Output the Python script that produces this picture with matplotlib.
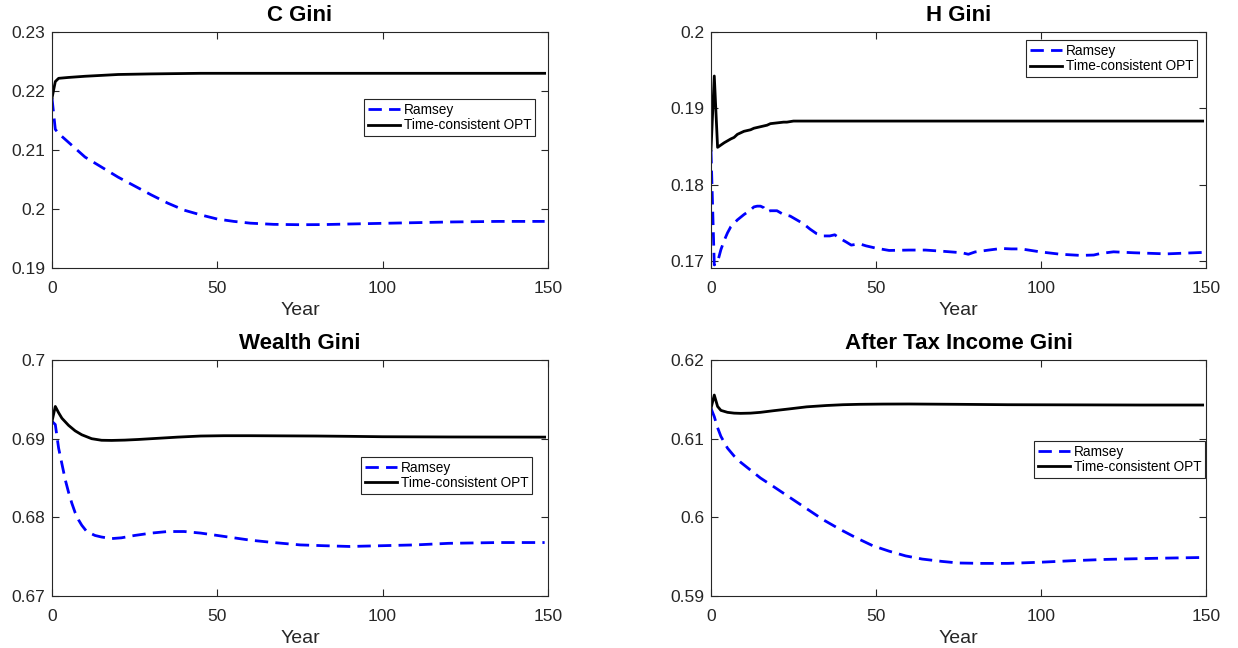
import matplotlib
matplotlib.use("Agg")
import matplotlib.pyplot as plt
from matplotlib.ticker import FuncFormatter

plt.rcParams['font.family'] = ['Liberation Sans', 'DejaVu Sans']

# C Gini
c_t_ram = [0, 1, 2, 4, 7, 10, 15, 20, 25, 30, 35, 40, 45, 50, 55, 60, 67, 75, 82, 90, 105, 120, 135, 149]
c_ram = [0.2188, 0.2135, 0.2128, 0.2118, 0.2103, 0.2088, 0.2071, 0.2054, 0.2039, 0.2024, 0.2010, 0.1998,
         0.1990, 0.1983, 0.1979, 0.1976, 0.1974, 0.19734, 0.19736, 0.19746, 0.19763, 0.1978, 0.1979, 0.1979]
c_t_opt = [0, 1, 2, 5, 10, 15, 20, 30, 45, 60, 100, 149]
c_opt = [0.2188, 0.2216, 0.22215, 0.2223, 0.2225, 0.22265, 0.2228, 0.2229, 0.2230, 0.2230, 0.2230, 0.2230]

# H Gini
h_t_ram = [0, 1, 2, 3, 4, 5, 6, 8, 10, 12, 13, 14, 15, 16, 17, 18, 20, 22, 24, 26, 28, 30, 32, 34, 36,
           37.5, 39, 41, 42.5, 44, 45.5, 47, 50, 54, 60, 65, 70, 76, 78, 80, 84, 88, 91, 94, 100, 106,
           112, 116, 118, 122, 128, 138, 149]
h_ram = [0.18454, 0.1695, 0.1699, 0.1715, 0.1727, 0.1737, 0.1745, 0.1754, 0.1761, 0.1767, 0.1771, 0.1772,
         0.1772, 0.1770, 0.17645, 0.1766, 0.1766, 0.1761, 0.1759, 0.1754, 0.1749, 0.1742, 0.1736, 0.1733,
         0.1733, 0.17345, 0.1730, 0.1725, 0.1721, 0.1722, 0.1722, 0.1720, 0.1717, 0.1714, 0.17145, 0.17145,
         0.1713, 0.1711, 0.1709, 0.1712, 0.17144, 0.17166, 0.1716, 0.1716, 0.1712, 0.1709, 0.17075, 0.1708,
         0.1710, 0.17122, 0.1711, 0.17095, 0.17114]
h_t_opt = [0, 1, 2, 4, 6, 7, 8, 10, 12, 13, 15, 17, 18, 20, 22, 23, 25, 149]
h_opt = [0.18454, 0.19424, 0.1849, 0.1855, 0.1860, 0.1862, 0.1866, 0.1870, 0.1872, 0.1874, 0.1876,
         0.1878, 0.1880, 0.1881, 0.1882, 0.1882, 0.18834, 0.18834]

# Wealth Gini
w_t_ram = [0, 1, 2, 3, 4, 5, 6, 7, 8, 9, 10.5, 13, 15, 18, 21, 25, 30, 35, 40, 45, 50, 55, 60, 67, 75,
           82, 90, 100, 110, 120, 135, 149]
w_ram = [0.6922, 0.6918, 0.6888, 0.6868, 0.6848, 0.6832, 0.6818, 0.6806, 0.6797, 0.6790, 0.6782, 0.6777,
         0.6775, 0.6773, 0.6774, 0.6777, 0.6780, 0.6782, 0.6782, 0.6780, 0.6777, 0.6774, 0.6771, 0.6768,
         0.6765, 0.6764, 0.6763, 0.6764, 0.6765, 0.6767, 0.6768, 0.6768]
w_t_opt = [0, 1, 2, 3, 5, 7, 9, 12, 15, 18, 22, 26, 30, 38, 45, 52, 60, 70, 80, 90, 100, 120, 149]
w_opt = [0.6922, 0.6941, 0.6933, 0.6926, 0.6917, 0.6910, 0.6905, 0.6900, 0.6898, 0.68978, 0.68982, 0.6899,
         0.6900, 0.6902, 0.69034, 0.69038, 0.69038, 0.69036, 0.69034, 0.6903, 0.69025, 0.69022, 0.6902]

# After tax income Gini
a_t_ram = [0, 1, 2, 3, 5, 7, 9, 12, 15, 19, 24, 29, 34, 39, 44, 49, 54, 59, 64, 70, 75, 82, 90, 100,
           110, 120, 135, 149]
a_ram = [0.61386, 0.6128, 0.6114, 0.6103, 0.6088, 0.6078, 0.6070, 0.6060, 0.6050, 0.6039, 0.6025, 0.6011,
         0.5997, 0.5985, 0.5974, 0.5964, 0.5957, 0.5951, 0.5947, 0.5944, 0.5942, 0.59415, 0.59415, 0.5943,
         0.5945, 0.59466, 0.5948, 0.5949]
a_t_opt = [0, 1, 2, 3, 5, 7, 9, 12, 15, 19, 24, 29, 35, 40, 45, 52, 60, 75, 90, 110, 130, 149]
a_opt = [0.61386, 0.61555, 0.6141, 0.6136, 0.61335, 0.61325, 0.61322, 0.61325, 0.61335, 0.61356, 0.6138,
         0.61405, 0.61422, 0.61432, 0.61437, 0.6144, 0.61441, 0.61437, 0.61432, 0.6143, 0.61428, 0.61428]

titles = ['C Gini', 'H Gini', 'Wealth Gini', 'After Tax Income Gini']
series = [(c_t_ram, c_ram, c_t_opt, c_opt), (h_t_ram, h_ram, h_t_opt, h_opt),
          (w_t_ram, w_ram, w_t_opt, w_opt), (a_t_ram, a_ram, a_t_opt, a_opt)]
ylims = [(0.19, 0.23), (0.1691, 0.2), (0.67, 0.70), (0.59, 0.62)]
yticks = [[0.19, 0.20, 0.21, 0.22, 0.23], [0.17, 0.18, 0.19, 0.20],
          [0.67, 0.68, 0.69, 0.70], [0.59, 0.60, 0.61, 0.62]]
legend_anchor = [(0.974, 0.716), (0.982, 0.966), (0.968, 0.590), (0.9986, 0.658)]
positions = [[0.042, 0.5864, 0.4006, 0.3642], [0.5743, 0.5864, 0.3998, 0.3642],
             [0.042, 0.0802, 0.4006, 0.3642], [0.5743, 0.0802, 0.3998, 0.3642]]

dark = (0.15, 0.15, 0.15)
fig = plt.figure(figsize=(12.38, 6.48), dpi=100)

for i in range(4):
    ax = fig.add_axes(positions[i])
    tr, r, to, o = series[i]
    ax.plot(tr, r, color='blue', lw=2.0, ls=(0, (4.8, 2.6)), label='Ramsey')
    ax.plot(to, o, color='black', lw=2.0, label='Time-consistent OPT')
    ax.set_xlim(0, 150)
    ax.set_ylim(*ylims[i])
    ax.set_xticks([0, 50, 100, 150])
    ax.set_yticks(yticks[i])
    ax.yaxis.set_major_formatter(FuncFormatter(lambda v, p: '%g' % round(v, 4)))
    ax.tick_params(direction='in', top=True, right=True, labelsize=12.5, colors=dark,
                   length=5, width=0.8)
    ax.tick_params(axis='x', pad=9)
    ax.tick_params(axis='y', pad=5)
    for s in ax.spines.values():
        s.set_color(dark)
        s.set_linewidth(0.8)
    ax.set_title(titles[i], fontsize=16, fontweight='bold', pad=8)
    ax.set_xlabel('Year', fontsize=14, color=dark, labelpad=5)
    leg = ax.legend(loc='upper right', bbox_to_anchor=legend_anchor[i], fontsize=9.8,
                    frameon=True, fancybox=False, framealpha=1, edgecolor=dark,
                    handlelength=2.4, handletextpad=0.25, labelspacing=0.12,
                    borderpad=0.28, borderaxespad=0)
    leg.get_frame().set_linewidth(0.8)

fig.savefig('out.png', dpi=100)
